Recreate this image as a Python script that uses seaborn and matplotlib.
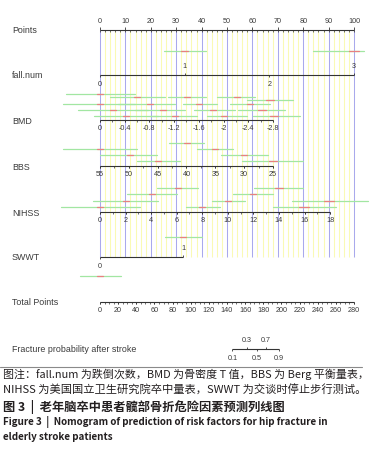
import matplotlib
matplotlib.use("Agg")
import numpy as np
import pandas as pd
import matplotlib.pyplot as plt
import seaborn as sns

# ==============================================================================
# DATA (all x values are in "Points" units, 0-100)
# ==============================================================================
POINT_TICKS = list(range(0, 101, 10))

FALL_VALUES = [0, 1, 2, 3]
FALL_SIDE = ["below", "above", "below", "above"]
FALL_SCALE = (0, 3, 0, 100)  # value0, value1, points0, points1

BMD_LABELS = ["0", "-0.4", "-0.8", "-1.2", "-1.6", "-2", "-2.4", "-2.8"]
BMD_VALUES = [0, -0.4, -0.8, -1.2, -1.6, -2.0, -2.4, -2.8]
BMD_SCALE = (0, -2.8, 0, 68.1)

BBS_VALUES = [55, 50, 45, 40, 35, 30, 25]
BBS_SCALE = (55, 25, 0, 68.1)

NIHSS_VALUES = [0, 2, 4, 6, 8, 10, 12, 14, 16, 18]
NIHSS_SCALE = (0, 18, 0, 90.6)

SWWT_VALUES = [0, 1]
SWWT_SIDE = ["below", "above"]
SWWT_SCALE = (0, 1, 0, 32.7)

TOTAL_TICKS = list(range(0, 281, 20))
TOTAL_MAX = 280

PROB_LABELS = ["0.1", "0.3", "0.5", "0.7", "0.9"]
PROB_TOTAL = [146, 162, 173, 183, 197]
PROB_SIDE = ["below", "above", "below", "above", "below"]

# confidence bars: row (pixel row), low, high, center, inner half width
CI_ROW = [51, 51,
          94, 97, 97, 97, 100, 104, 104, 104, 104, 110, 110, 110, 110,
          116, 116, 116, 116,
          143, 149, 149, 155, 155, 161, 161,
          188, 188, 194, 194, 201, 201, 201, 207, 207, 207,
          237, 276]
CI_LO = [25.0, 84.0,
         -13.4, 3.9, 26.8, 46.1, 57.9, -14.6, 7.1, 32.7, 51.2, -8.7, 13.8, 37.0, 54.3,
         -2.4, 19.7, 42.1, 60.2,
         27.2, -14.6, 38.2, 0.0, 47.6, 14.6, 55.9,
         22.4, 60.6, 10.6, 52.4, -2.8, 44.1, 75.6, -15.4, 33.9, 68.1,
         25.6, -7.9]
CI_HI = [41.7, 104.0,
         13.8, 25.6, 41.7, 61.0, 76.0, 13.8, 29.5, 46.1, 66.9, 18.9, 33.5, 53.1, 72.8,
         22.8, 38.2, 57.9, 78.7,
         40.9, 14.6, 52.4, 22.4, 66.1, 31.5, 79.9,
         38.6, 79.9, 30.3, 68.1, 22.8, 57.1, 105.5, 15.7, 47.2, 92.9,
         40.2, 8.3]
CI_MID = [33.3, 100.0,
          0.0, 14.6, 34.3, 53.9, 66.9, 0.0, 19.7, 39.0, 59.1, 5.1, 24.8, 44.5, 63.8,
          10.2, 29.5, 48.8, 68.5,
          34.3, 0.0, 45.3, 11.8, 56.7, 22.8, 68.1,
          30.7, 70.5, 20.5, 60.2, 10.2, 50.4, 90.2, 0.0, 40.2, 80.3,
          32.7, 0.0]
CI_INNER = [1.3, 2.0,
            1.2, 1.2, 1.2, 1.2, 1.5, 1.2, 1.2, 1.2, 1.2, 1.2, 1.2, 1.2, 1.5,
            1.2, 1.2, 1.2, 1.5,
            1.2, 1.2, 1.2, 1.2, 1.2, 1.2, 1.5,
            1.2, 1.5, 1.2, 1.2, 1.2, 1.2, 2.0, 1.2, 1.2, 1.8,
            1.2, 1.0]

ROW_NAMES = ["Points", "fall.num", "BMD", "BBS", "NIHSS", "SWWT",
             "Total Points", "Fracture probability after stroke"]

CAPTION = [
    "图注：fall.num 为跌倒次数，BMD 为骨密度 T 值，BBS 为 Berg 平衡量表，",
    "NIHSS 为美国国立卫生研究院卒中量表，SWWT 为交谈时停止步行测试。",
    "图 3  |  老年脑卒中患者髋部骨折危险因素预测列线图",
    "Figure 3  |  Nomogram of prediction of risk factors for hip fracture in",
    "elderly stroke patients",
]

# ==============================================================================
# LAYOUT
# ==============================================================================
ROW_Y = [29.5, 75, 120, 166, 212, 257, 301.5, 349]
GRID_BOTTOM = 257
PX_PER_POINT = 2.54
LEFT_PX = 100
TEXT_C = "#3a3a3a"
GREEN = "#a2e6a2"
RED = "#e98080"
TICK_FS = 5.2


def to_points(v, scale):
    v0, v1, p0, p1 = scale
    return p0 + (np.asarray(v, float) - v0) / (v1 - v0) * (p1 - p0)


def draw_scale(ax, y, pos, labels, sides, minor=None, tick=2.2):
    ax.plot([min(pos), max(pos)], [y, y], color="#333333", lw=0.8, zorder=4,
            solid_capstyle="butt")
    if minor is not None:
        ax.vlines(minor, y, y + tick, color="#333333", lw=0.5, zorder=4)
    for p, lab, side in zip(pos, labels, sides):
        if side == "above":
            ax.vlines(p, y - tick, y, color="#333333", lw=0.6, zorder=4)
            ax.text(p, y - 8, lab, ha="center", va="center", fontsize=TICK_FS,
                    color=TEXT_C)
        else:
            ax.vlines(p, y, y + tick, color="#333333", lw=0.6, zorder=4)
            ax.text(p, y + 9, lab, ha="center", va="center", fontsize=TICK_FS,
                    color=TEXT_C)


def main():
    sns.set_theme(style="white")
    plt.rcParams["font.family"] = ["Liberation Sans", "DejaVu Sans"]

    fig = plt.figure(figsize=(3.76, 4.5), dpi=100)
    ax = fig.add_axes([0, 0, 1, 1])

    # grid lines (blue at major, yellow at minor points ticks)
    for p in range(0, 101, 2):
        col = "#a9a9ec" if p % 10 == 0 else "#fafab4"
        ax.vlines(p, ROW_Y[0], GRID_BOTTOM, color=col, lw=0.75, zorder=1)

    # confidence bars
    ci = pd.DataFrame({"row": CI_ROW, "lo": CI_LO, "hi": CI_HI,
                       "mid": CI_MID, "inner": CI_INNER})
    ci["seg"] = np.arange(len(ci))
    outer = pd.concat([
        ci.assign(x=ci["lo"]), ci.assign(x=ci["hi"])
    ]).sort_values("seg")
    inner = pd.concat([
        ci.assign(x=ci["mid"] - ci["inner"]), ci.assign(x=ci["mid"] + ci["inner"])
    ]).sort_values("seg")
    sns.lineplot(data=outer, x="x", y="row", units="seg", estimator=None,
                 sort=False, color=GREEN, lw=0.9, ax=ax, legend=False, zorder=2)
    sns.lineplot(data=inner, x="x", y="row", units="seg", estimator=None,
                 sort=False, color=RED, lw=0.9, ax=ax, legend=False, zorder=3)

    # Points axis
    draw_scale(ax, ROW_Y[0], POINT_TICKS, [str(t) for t in POINT_TICKS],
               ["above"] * len(POINT_TICKS), minor=np.arange(0, 101, 2))

    # fall.num
    draw_scale(ax, ROW_Y[1], to_points(FALL_VALUES, FALL_SCALE),
               [str(v) for v in FALL_VALUES], FALL_SIDE)

    # BMD
    bmd_minor = to_points(np.arange(0, -2.81, -0.2), BMD_SCALE)
    draw_scale(ax, ROW_Y[2], to_points(BMD_VALUES, BMD_SCALE), BMD_LABELS,
               ["below"] * len(BMD_VALUES), minor=bmd_minor)

    # BBS
    bbs_minor = to_points(np.arange(55, 24.9, -2.5), BBS_SCALE)
    draw_scale(ax, ROW_Y[3], to_points(BBS_VALUES, BBS_SCALE),
               [str(v) for v in BBS_VALUES], ["below"] * len(BBS_VALUES),
               minor=bbs_minor)

    # NIHSS
    nih_minor = to_points(np.arange(0, 19, 1), NIHSS_SCALE)
    draw_scale(ax, ROW_Y[4], to_points(NIHSS_VALUES, NIHSS_SCALE),
               [str(v) for v in NIHSS_VALUES], ["below"] * len(NIHSS_VALUES),
               minor=nih_minor)

    # SWWT
    draw_scale(ax, ROW_Y[5], to_points(SWWT_VALUES, SWWT_SCALE),
               [str(v) for v in SWWT_VALUES], SWWT_SIDE)

    # Total points
    tot_scale = (0, TOTAL_MAX, 0, 100)
    draw_scale(ax, ROW_Y[6], to_points(TOTAL_TICKS, tot_scale),
               [str(t) for t in TOTAL_TICKS], ["below"] * len(TOTAL_TICKS),
               minor=to_points(np.arange(0, 281, 5), tot_scale))

    # probability
    draw_scale(ax, ROW_Y[7], to_points(PROB_TOTAL, tot_scale), PROB_LABELS,
               PROB_SIDE)

    # row labels
    for name, y in zip(ROW_NAMES, ROW_Y):
        ax.text(-88 / PX_PER_POINT, y + 1, name, ha="left", va="center",
                fontsize=6.4, color=TEXT_C)

    ax.set_xlim(-LEFT_PX / PX_PER_POINT, (376 - LEFT_PX) / PX_PER_POINT)
    ax.set_ylim(450, 0)
    ax.axis("off")

    # caption
    fig.add_artist(plt.Line2D([0, 362 / 376], [1 - 367 / 450] * 2,
                              color="#8a8a8a", lw=0.8))
    cap_y = [374.5, 390, 406.5, 422.5, 437.5]
    cap_size = [7.9, 8.1, 8.8, 7.1, 7.1]
    cap_weight = ["normal", "normal", "bold", "bold", "bold"]
    for txt, y, s, w in zip(CAPTION, cap_y, cap_size, cap_weight):
        fig.text(3 / 376, 1 - y / 450, txt, ha="left", va="center",
                 fontsize=s, fontweight=w, color="#231f20",
                 family=["Noto Sans CJK SC", "DejaVu Sans"])

    fig.savefig("out.png", dpi=100)
    plt.close(fig)


if __name__ == "__main__":
    main()
